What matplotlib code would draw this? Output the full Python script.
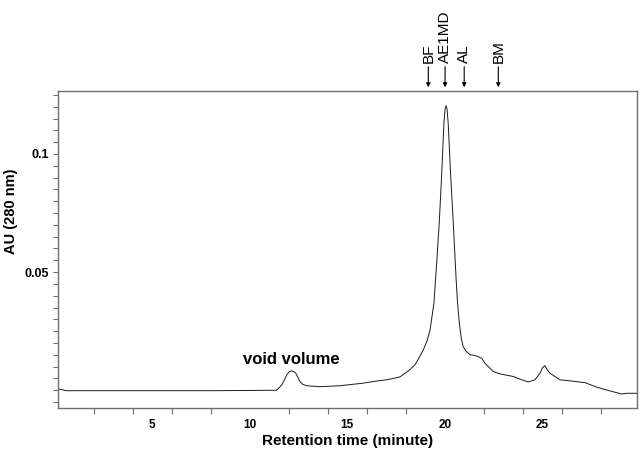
import matplotlib
matplotlib.use('Agg')
import matplotlib.pyplot as plt
from matplotlib.ticker import MultipleLocator, FixedLocator

plt.rcParams['font.family'] = ['Liberation Sans', 'DejaVu Sans']

# chromatogram trace (minutes, AU)
time = [0.15, 0.6, 2.0, 5.0, 8.0, 10.0, 11.38, 11.5, 11.64, 11.77, 11.9, 12.02,
        12.15, 12.27, 12.36, 12.47, 12.58, 12.72, 12.92, 13.6, 14.63, 15.83,
        16.68, 17.03, 17.7, 18.2, 18.5, 18.9, 19.1, 19.25, 19.45, 19.59, 19.72,
        19.85, 19.96, 20.02, 20.07, 20.12, 20.18, 20.3, 20.44, 20.58, 20.65,
        20.75, 20.85, 20.95, 21.1, 21.3, 21.5, 21.72, 21.9, 22.07, 22.49, 22.84,
        23.52, 23.95, 24.29, 24.63, 24.89, 25.02, 25.14, 25.25, 25.4, 25.91,
        26.6, 27.2, 27.8, 28.3, 29.08, 29.33, 29.85]
absorb = [0.0006, -0.0002, -0.0002, -0.0002, -0.0002, -0.0001, 0.0, 0.001,
          0.0022, 0.0042, 0.0065, 0.0078, 0.0082, 0.0079, 0.0072, 0.0054, 0.0036,
          0.0025, 0.0019, 0.0015, 0.0019, 0.003, 0.0041, 0.0044, 0.0056, 0.0086,
          0.011, 0.017, 0.021, 0.0255, 0.037, 0.054, 0.0707, 0.092, 0.113, 0.119,
          0.1204, 0.119, 0.113, 0.092, 0.0707, 0.048, 0.038, 0.0284, 0.022,
          0.0184, 0.0165, 0.015, 0.0148, 0.0142, 0.0135, 0.0114, 0.0079, 0.0069,
          0.0058, 0.0044, 0.0035, 0.0044, 0.0072, 0.0095, 0.0104, 0.0088, 0.0072,
          0.0044, 0.0038, 0.0032, 0.0013, 0.0001, -0.0016, -0.0013, -0.0013]

markers = ['BF', 'AE1MD', 'AL', 'BM']
marker_pos = [19.16, 20.02, 21.0, 22.75]

fig = plt.figure(figsize=(6.44, 4.51), dpi=100)
ax = fig.add_axes([0.0896, 0.096, 0.8991, 0.702])

ax.plot(time, absorb, color='#1a1a1a', lw=0.7)

ax.set_xlim(0.15, 29.85)
ax.set_ylim(-0.0074, 0.1266)

ax.xaxis.set_major_locator(FixedLocator([5, 10, 15, 20, 25]))
ax.xaxis.set_minor_locator(MultipleLocator(2))
ax.yaxis.set_major_locator(FixedLocator([0.05, 0.1]))
ax.yaxis.set_minor_locator(MultipleLocator(0.005))
ax.set_xticklabels(['5', '10', '15', '20', '25'])
ax.set_yticklabels(['0.05', '0.1'])

gray = '#6e6e6e'
ax.tick_params(axis='x', which='major', length=0, pad=8)
ax.tick_params(axis='x', which='minor', length=4, width=0.8, color=gray)
ax.tick_params(axis='y', which='both', length=3.3, width=0.8, color=gray)
ax.tick_params(axis='y', which='major', pad=2.7)
for lab in ax.get_xticklabels():
    lab.set_fontweight('bold')
    lab.set_fontsize(8.5)
for lab in ax.get_yticklabels():
    lab.set_fontweight('bold')
    lab.set_fontsize(9)

for s in ax.spines.values():
    s.set_color(gray)
    s.set_linewidth(1.0)

ax.set_xlabel('Retention time (minute)', fontsize=11, fontweight='bold', labelpad=2)
ax.set_ylabel('AU (280 nm)', fontsize=10.5, fontweight='bold')
ax.yaxis.set_label_coords(-0.068, 0.619)

ax.text(12.13, 0.013, 'void volume', fontsize=12, fontweight='bold',
        ha='center', va='center')

tr = ax.get_xaxis_transform()
for name, xp in zip(markers, marker_pos):
    ax.annotate('', xy=(xp, 1.012), xytext=(xp, 1.077), xycoords=tr, textcoords=tr,
                arrowprops=dict(arrowstyle='-|>', color='black', lw=0.8,
                                mutation_scale=6, shrinkA=0, shrinkB=0))
    ax.text(xp, 1.089, name, transform=tr, rotation=90, ha='center', va='bottom',
            fontsize=11)

fig.savefig('out.png', dpi=100)
